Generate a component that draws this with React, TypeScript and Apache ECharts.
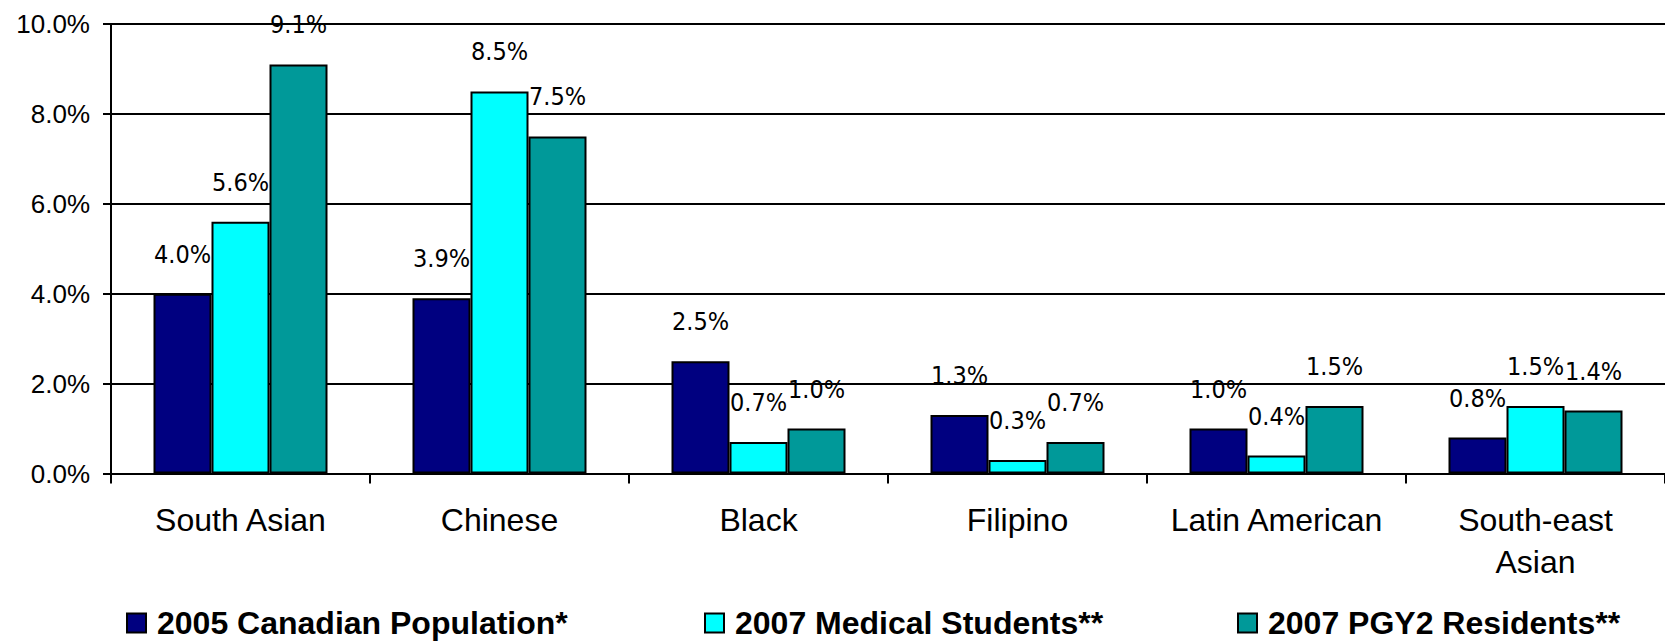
import React, { useEffect, useRef } from "react";
import * as echarts from "echarts";

const categories = ["South Asian", "Chinese", "Black", "Filipino", "Latin American", "South-east\nAsian"];
const seriesNames = ["2005 Canadian Population*", "2007 Medical Students**", "2007 PGY2 Residents**"];
const population2005 = [4.0, 3.9, 2.5, 1.3, 1.0, 0.8];
const medicalStudents2007 = [5.6, 8.5, 0.7, 0.3, 0.4, 1.5];
const pgy2Residents2007 = [9.1, 7.5, 1.0, 0.7, 1.5, 1.4];
const seriesColors = ["#000080", "#00FFFF", "#009999"];
const yMin = 0;
const yMax = 10;
const yInterval = 2;

const SANS = "'Liberation Sans', Arial, Helvetica, sans-serif";
const NARROW = "'Liberation Sans Narrow', 'Arial Narrow', 'DejaVu Sans Condensed', sans-serif";

export default function App() {
  const ref = useRef<HTMLDivElement>(null);

  useEffect(() => {
    if (!ref.current) return;
    const chart = echarts.init(ref.current, undefined, { renderer: "svg" });
    const allData = [population2005, medicalStudents2007, pgy2Residents2007];
    const legendLefts = [126, 704, 1237];

    chart.setOption({
      animation: false,
      backgroundColor: "#ffffff",
      grid: { left: 111, top: 24, width: 1556, height: 449.5, containLabel: false },
      legend: seriesNames.map((name, i) => ({
        data: [name],
        left: legendLefts[i],
        top: 607,
        icon: "rect",
        itemWidth: 19,
        itemHeight: 19,
        selectedMode: false,
        padding: 0,
        textStyle: {
          fontFamily: SANS,
          fontSize: 32,
          fontWeight: "bold",
          color: "#000",
          padding: [0, 0, 0, 6],
        },
      })),
      xAxis: {
        type: "category",
        data: categories,
        axisLine: { show: true, lineStyle: { color: "#000", width: 2 } },
        axisTick: { show: true, length: 10, lineStyle: { color: "#000", width: 2 } },
        axisLabel: {
          color: "#000",
          fontFamily: SANS,
          fontSize: 32,
          lineHeight: 42,
          margin: 25,
          interval: 0,
        },
        splitLine: { show: false },
      },
      yAxis: {
        type: "value",
        min: yMin,
        max: yMax,
        interval: yInterval,
        axisLine: { show: true, lineStyle: { color: "#000", width: 2 } },
        axisTick: { show: true, length: 8, lineStyle: { color: "#000", width: 2 } },
        axisLabel: {
          color: "#000",
          fontFamily: SANS,
          fontSize: 26,
          margin: 21,
          formatter: (v: number) => v.toFixed(1) + "%",
        },
        splitLine: { show: true, lineStyle: { color: "#000", width: 2 } },
      },
      series: seriesNames.map((name, i) => ({
        name,
        type: "bar",
        data: allData[i],
        barWidth: 58,
        barGap: "0%",
        itemStyle: { color: seriesColors[i], borderColor: "#000", borderWidth: 2 },
        label: {
          show: true,
          position: "top",
          distance: 27,
          fontFamily: NARROW,
          fontSize: 25,
          color: "#000",
          formatter: (p: any) => Number(p.value).toFixed(1) + "%",
        },
      })),
    });

    return () => chart.dispose();
  }, []);

  return (
    <div
      ref={ref}
      style={{ position: "absolute", left: 0, top: 0, width: 1665, height: 641 }}
    />
  );
}
